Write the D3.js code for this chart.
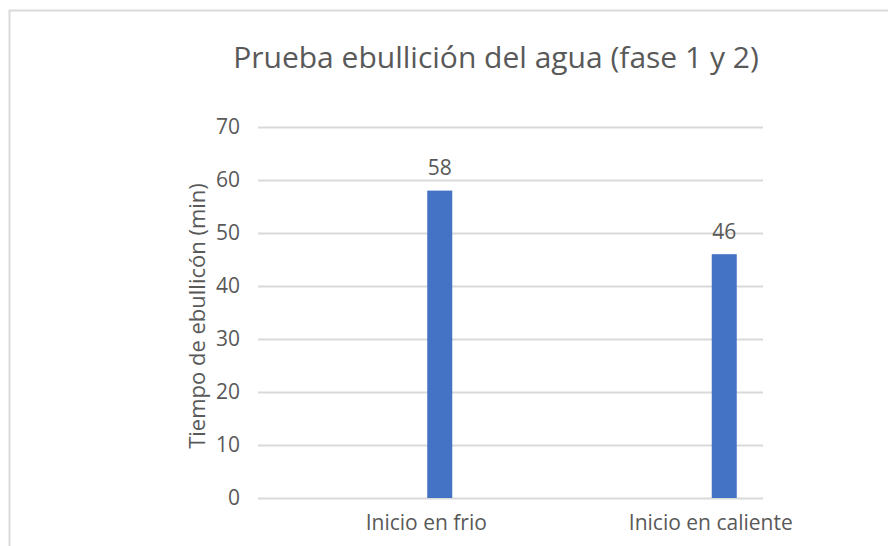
<!DOCTYPE html>
<html>
<head>
<meta charset="utf-8">
<script src="https://cdn.jsdelivr.net/npm/d3@7"></script>
<style>
  body { margin: 0; background: #fff; }
  text { font-family: "Open Sans", "Noto Sans", sans-serif; fill: #595959; }
</style>
</head>
<body>
<div class="chart"></div>
<script>
// data
const categories = ["Inicio en frio", "Inicio en caliente"];
const values = [58, 46];
const yTicks = [0, 10, 20, 30, 40, 50, 60, 70];
const title = "Prueba ebullición del agua (fase 1 y 2)";
const yTitle = "Tiempo de ebullicón (min)";

const W = 888, H = 546;

const svg = d3.select(".chart").append("svg")
    .attr("width", W)
    .attr("height", H);

// chart border (cut off on right and bottom)
svg.append("rect")
    .attr("x", 9.5).attr("y", 10.5)
    .attr("width", W + 20).attr("height", H + 20)
    .attr("fill", "none")
    .attr("stroke", "#d9d9d9")
    .attr("stroke-width", 2);

const gridLeft = 258, gridRight = 763;

const y = d3.scaleLinear().domain([0, 70]).range([498, 127]);
const x = d3.scaleBand().domain(categories).range([284, 853]);

// gridlines
svg.append("g")
  .selectAll("line")
  .data(yTicks)
  .join("line")
    .attr("x1", gridLeft)
    .attr("x2", gridRight)
    .attr("y1", d => Math.round(y(d)) + 0.5)
    .attr("y2", d => Math.round(y(d)) + 0.5)
    .attr("stroke", "#d9d9d9")
    .attr("stroke-width", 2);

// y tick labels
svg.append("g")
  .selectAll("text")
  .data(yTicks)
  .join("text")
    .attr("x", 240)
    .attr("y", d => y(d))
    .attr("dy", "0.35em")
    .attr("text-anchor", "end")
    .attr("font-size", 21)
    .text(d => d);

// bars
const barW = 25;
svg.append("g")
  .selectAll("rect")
  .data(values)
  .join("rect")
    .attr("x", (d, i) => x(categories[i]) + x.bandwidth() / 2 + 1)
    .attr("y", d => y(d))
    .attr("width", barW)
    .attr("height", d => y(0) - y(d))
    .attr("fill", "#4472c4");

// data labels
svg.append("g")
  .selectAll("text")
  .data(values)
  .join("text")
    .attr("x", (d, i) => x(categories[i]) + x.bandwidth() / 2 + 1 + barW / 2)
    .attr("y", d => y(d) - 23)
    .attr("dy", "0.35em")
    .attr("text-anchor", "middle")
    .attr("font-size", 21)
    .text(d => d);

// category labels
svg.append("g")
  .selectAll("text")
  .data(categories)
  .join("text")
    .attr("x", d => x(d) + x.bandwidth() / 2)
    .attr("y", 523)
    .attr("dy", "0.35em")
    .attr("text-anchor", "middle")
    .attr("font-size", 21)
    .text(d => d);

// title
svg.append("text")
    .attr("x", 496)
    .attr("y", 57)
    .attr("dy", "0.35em")
    .attr("text-anchor", "middle")
    .attr("font-size", 30)
    .text(title);

// y axis title
svg.append("text")
    .attr("transform", "translate(197,316) rotate(-90)")
    .attr("dy", "0.35em")
    .attr("text-anchor", "middle")
    .attr("font-size", 22)
    .text(yTitle);
</script>
</body>
</html>
